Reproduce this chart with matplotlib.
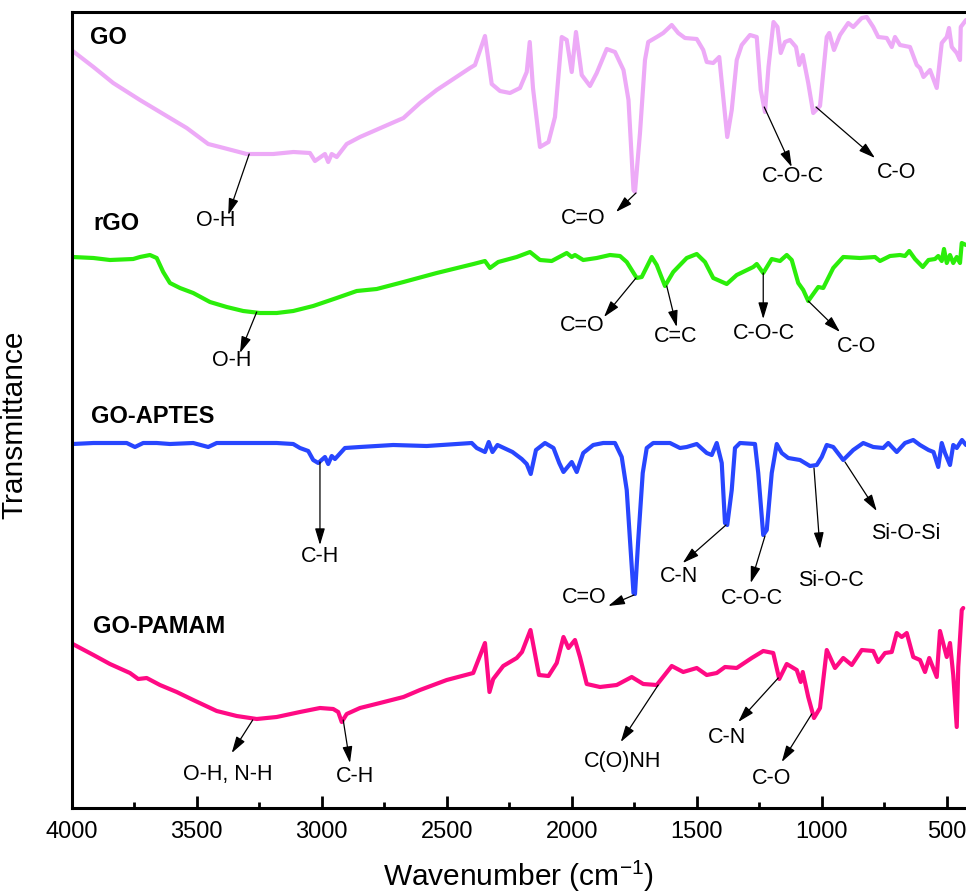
import numpy as np
import matplotlib.pyplot as plt

plt.rcParams['font.family'] = ['Liberation Sans', 'DejaVu Sans']
plt.rcParams['mathtext.default'] = 'regular'

# --- spectra (wavenumber in cm-1, transmittance in a.u. incl. offset) ---
go_wn = [3996, 3913, 3834, 3727, 3647, 3540, 3454, 3407, 3300, 3194, 3113, 3047, 3027, 2987, 2974,
         2960, 2940, 2900, 2847, 2673, 2607, 2540, 2407, 2387, 2347, 2320, 2287, 2247, 2207, 2180,
         2168, 2155, 2127, 2093, 2067, 2040, 2020, 2000, 1983, 1960, 1927, 1900, 1860, 1827, 1793,
         1773, 1753, 1747, 1727, 1707, 1694, 1660, 1634, 1600, 1574, 1547, 1500, 1474, 1460, 1434,
         1410, 1394, 1378, 1360, 1340, 1320, 1287, 1260, 1244, 1227, 1213, 1193, 1177, 1164, 1147,
         1127, 1103, 1090, 1076, 1054, 1034, 1007, 980, 970, 951, 927, 894, 874, 840, 820,
         794, 774, 740, 720, 707, 687, 647, 620, 607, 593, 567, 540, 520, 500, 491,
         480, 460, 447, 444, 423]
go_t = [757, 741, 725, 708, 696, 680, 664, 661, 654, 654, 656, 655, 647, 654, 646,
        654, 651, 664, 671, 690, 705, 718, 740, 743, 772, 724, 717, 715, 720, 736,
        766, 720, 661, 666, 691, 771, 768, 736, 776, 733, 722, 735, 759, 756, 738,
        708, 618, 616, 675, 748, 766, 771, 775, 783, 775, 770, 769, 758, 746, 745,
        751, 711, 671, 698, 748, 763, 773, 771, 718, 696, 741, 786, 781, 755, 766,
        768, 761, 743, 753, 725, 695, 702, 771, 775, 758, 773, 785, 781, 790, 791,
        781, 771, 770, 761, 771, 763, 761, 743, 740, 731, 738, 720, 765, 771, 780,
        761, 755, 748, 781, 788]

rgo_wn = [3996, 3913, 3847, 3754, 3727, 3687, 3660, 3634, 3607, 3567, 3514, 3447, 3380, 3314, 3247,
          3180, 3114, 3034, 2940, 2860, 2780, 2673, 2540, 2393, 2347, 2327, 2294, 2220, 2167, 2127,
          2080, 2020, 2000, 1987, 1954, 1900, 1847, 1807, 1780, 1740, 1720, 1680, 1660, 1627, 1594,
          1540, 1500, 1467, 1434, 1380, 1340, 1274, 1260, 1234, 1200, 1167, 1140, 1120, 1094, 1074,
          1054, 1014, 994, 954, 914, 847, 787, 767, 727, 687, 667, 650, 627, 596, 573,
          547, 534, 520, 511, 500, 487, 474, 460, 447, 440, 423]
rgo_t = [551, 550, 548, 549, 551, 553, 550, 536, 525, 520, 515, 506, 501, 497, 495,
         495, 497, 502, 510, 517, 519, 526, 535, 544, 547, 540, 546, 551, 556, 548,
         547, 555, 551, 553, 548, 550, 553, 552, 546, 530, 531, 551, 543, 522, 536,
         550, 554, 546, 530, 524, 533, 541, 544, 535, 549, 547, 553, 548, 525, 518,
         507, 521, 520, 540, 551, 550, 551, 547, 552, 553, 552, 557, 549, 541, 548,
         549, 552, 547, 559, 545, 553, 545, 551, 545, 565, 563]

aptes_wn = [3996, 3913, 3780, 3747, 3714, 3660, 3607, 3514, 3454, 3420, 3314, 3180, 3114, 3087, 3054,
            3034, 3014, 2987, 2974, 2960, 2947, 2907, 2847, 2714, 2580, 2400, 2380, 2347, 2332, 2317,
            2297, 2237, 2200, 2180, 2164, 2143, 2107, 2073, 2050, 2033, 2000, 1980, 1954, 1914, 1874,
            1827, 1800, 1780, 1767, 1753, 1747, 1734, 1716, 1700, 1674, 1607, 1567, 1540, 1500, 1460,
            1440, 1420, 1400, 1387, 1378, 1360, 1347, 1327, 1267, 1254, 1234, 1220, 1200, 1180, 1160,
            1134, 1087, 1047, 1020, 1000, 980, 954, 914, 874, 834, 794, 754, 734, 700, 667,
            634, 607, 573, 553, 534, 520, 507, 487, 474, 460, 447, 439, 423]
aptes_t = [364, 365, 365, 361, 365, 365, 364, 365, 361, 365, 365, 365, 364, 360, 357,
           348, 345, 351, 344, 352, 349, 360, 361, 363, 362, 365, 360, 356, 366, 356,
           363, 356, 349, 344, 334, 358, 365, 360, 345, 336, 346, 336, 355, 363, 365,
           365, 351, 318, 268, 215, 214, 268, 335, 360, 365, 365, 360, 361, 364, 355,
           353, 365, 345, 285, 283, 318, 360, 365, 364, 335, 273, 278, 335, 364, 355,
           350, 348, 342, 343, 351, 363, 361, 348, 358, 365, 361, 360, 365, 356, 365,
           368, 363, 358, 356, 341, 365, 355, 343, 363, 360, 365, 368, 363]

pamam_wn = [3996, 3913, 3847, 3767, 3734, 3700, 3647, 3580, 3514, 3420, 3340, 3260, 3180, 3087, 3007,
            2954, 2934, 2920, 2900, 2847, 2767, 2673, 2607, 2500, 2394, 2347, 2329, 2314, 2274, 2220,
            2199, 2165, 2131, 2093, 2060, 2033, 2013, 1987, 1967, 1940, 1887, 1820, 1760, 1714, 1660,
            1600, 1554, 1500, 1460, 1420, 1387, 1340, 1280, 1234, 1194, 1170, 1140, 1100, 1084, 1076,
            1054, 1031, 1007, 980, 947, 914, 880, 840, 794, 774, 747, 720, 700, 680, 660,
            634, 607, 587, 570, 540, 527, 500, 487, 474, 460, 454, 440, 434]
pamam_t = [164, 153, 144, 135, 129, 130, 123, 116, 108, 97, 92, 89, 91, 96, 100,
           99, 96, 86, 94, 100, 105, 111, 118, 128, 135, 165, 116, 129, 142, 150,
           156, 178, 133, 132, 145, 171, 160, 168, 151, 124, 121, 123, 131, 124, 123,
           142, 136, 140, 133, 135, 141, 140, 150, 157, 155, 129, 144, 138, 126, 136,
           111, 90, 100, 158, 140, 150, 143, 158, 157, 146, 155, 156, 175, 171, 175,
           151, 148, 136, 150, 131, 177, 151, 165, 133, 81, 141, 198, 200]

spectra = [
    ("GO", go_wn, go_t, "#EDAAF7"),
    ("rGO", rgo_wn, rgo_t, "#2BEE0A"),
    ("GO-APTES", aptes_wn, aptes_t, "#2846FF"),
    ("GO-PAMAM", pamam_wn, pamam_t, "#FF0A84"),
]
label_pos = [(3927, 770), (3915, 584), (3923, 391.5), (3915, 181.5)]

# band assignments: text, arrow tail on curve, arrow head, text centre
bands = [
    ("O-H", (3290, 654), (3374, 593), (3423, 587.5)),
    ("C=O", (1743, 615), (1823, 596), (1953, 590)),
    ("C-O-C", (1230, 701), (1120, 641), (1117, 631)),
    ("C-O", (1023, 701), (787, 650), (700, 636)),
    ("O-H", (3260, 496), (3327, 455), (3359, 447)),
    ("C=O", (1743, 530), (1871, 491), (1959, 482.5)),
    ("C=C", (1620, 522), (1580, 481), (1583, 472)),
    ("C-O-C", (1234, 535), (1234, 489), (1231, 474.5)),
    ("C-O", (1054, 507), (927, 476), (859, 461.5)),
    ("C-H", (3007, 346), (3007, 263), (3007, 251)),
    ("C=O", (1751, 213), (1854, 202), (1951, 210.5)),
    ("C-N", (1383, 283), (1556, 245), (1571, 231)),
    ("C-O-C", (1227, 272), (1284, 225), (1279, 209.5)),
    ("Si-O-C", (1031, 340), (1007, 259), (965, 228)),
    ("Si-O-Si", (907, 346), (780, 297), (663, 274.5)),
    ("O-H, N-H", (3276, 88), (3360, 55), (3375, 34)),
    ("C-H", (2914, 88), (2887, 45), (2867, 32)),
    ("C(O)NH", (1654, 123), (1804, 66), (1797, 46.5)),
    ("C-N", (1174, 130), (1334, 86), (1379, 70.5)),
    ("C-O", (1040, 94), (1160, 46), (1199, 29.5)),
]

fig = plt.figure(figsize=(9.66, 8.96), dpi=100)
ax = fig.add_axes([71.7 / 966, 1 - 808 / 896, 1 - 71.7 / 966, (808 - 11.7) / 896])

for (name, wn, t, color), (lx, ly) in zip(spectra, label_pos):
    ax.plot(wn, t, color=color, linewidth=3.0, solid_joinstyle="round", solid_capstyle="round")
    ax.text(lx, ly, name, fontsize=17, fontweight="bold", ha="left", va="center")

for text, tail, head, pos in bands:
    ax.annotate("", xy=head, xytext=tail,
                arrowprops=dict(arrowstyle="-|>,head_length=1.0,head_width=0.3",
                                color="black", lw=0.9, mutation_scale=10,
                                shrinkA=0, shrinkB=0))
    ax.text(pos[0], pos[1], text, fontsize=15.5, ha="center", va="center")

ax.set_xlim(4000, 423)
ax.set_ylim(0, 796.3)
ax.set_xticks(np.arange(4000, 400, -500))
ax.set_xticks(np.arange(3750, 400, -500), minor=True)
ax.set_yticks([])
ax.tick_params(axis="x", which="major", direction="in", length=8.5, width=2, labelsize=17, pad=9)
ax.tick_params(axis="x", which="minor", direction="in", length=4, width=2)
for side in ["left", "bottom", "top"]:
    ax.spines[side].set_linewidth(2.2)
ax.spines["right"].set_visible(False)

ax.set_xlabel("Wavenumber (cm$^{-1}$)", fontsize=21.5, labelpad=12)
ax.set_ylabel("Transmittance", fontsize=21.5)
ax.yaxis.set_label_coords(-0.049, 0.481)

fig.savefig("out.png", dpi=100)
